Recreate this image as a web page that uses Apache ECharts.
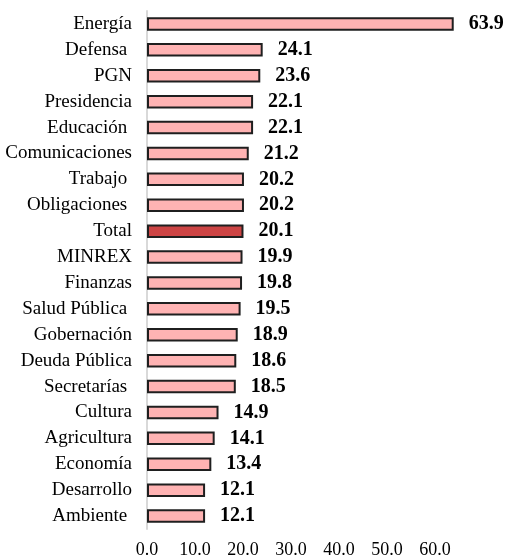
<!DOCTYPE html>
<html>
<head>
<meta charset="utf-8">
<script src="https://cdn.jsdelivr.net/npm/echarts@6/dist/echarts.min.js"></script>
<style>
  html, body { margin: 0; padding: 0; background: #fff; }
  #chart { width: 511px; height: 558px; }
</style>
</head>
<body>
<div id="chart"></div>
<script>
// categorias (algunas con espacio al final, como en el original)
const categories = [
  'Energía', 'Defensa ', 'PGN', 'Presidencia', 'Educación ', 'Comunicaciones',
  'Trabajo ', 'Obligaciones ', 'Total', 'MINREX', 'Finanzas', 'Salud Pública ',
  'Gobernación', 'Deuda Pública', 'Secretarías ', 'Cultura', 'Agricultura',
  'Economía', 'Desarrollo', 'Ambiente '
];
const values = [
  63.9, 24.1, 23.6, 22.1, 22.1, 21.2, 20.2, 20.2, 20.1, 19.9, 19.8, 19.5,
  18.9, 18.6, 18.5, 14.9, 14.1, 13.4, 12.1, 12.1
];
const highlightCategory = 'Total';
const tickValues = [0, 10, 20, 30, 40, 50, 60];

const chart = echarts.init(document.getElementById('chart'));

const option = {
  animation: false,
  grid: { left: 147, right: 28, top: 11, bottom: 29, outerBoundsMode: 'none' },
  xAxis: {
    type: 'value',
    min: 0,
    max: 70,
    interval: 10,
    axisLine: { show: false },
    axisTick: { show: false },
    splitLine: { show: false },
    axisLabel: {
      margin: 12,
      fontFamily: 'Liberation Serif',
      fontSize: 18,
      color: '#000',
      formatter: (v) => (tickValues.includes(v) ? v.toFixed(1) : '')
    }
  },
  yAxis: {
    type: 'category',
    inverse: true,
    data: categories,
    axisLine: { show: true, lineStyle: { color: '#d9d9d9', width: 2 } },
    axisTick: { show: false },
    axisLabel: {
      margin: 15,
      fontFamily: 'Liberation Serif',
      fontSize: 19,
      color: '#000'
    }
  },
  series: [
    {
      type: 'bar',
      barWidth: '52%',
      data: values.map((v, i) => ({
        value: v,
        itemStyle: {
          color: categories[i].trim() === highlightCategory ? '#cc4444' : '#ffb3b3'
        }
      })),
      itemStyle: { borderColor: '#1f1f1f', borderWidth: 2 },
      label: {
        show: true,
        position: 'right',
        distance: 15,
        fontFamily: 'Liberation Serif',
        fontWeight: 'bold',
        fontSize: 20,
        color: '#000',
        formatter: (p) => p.value.toFixed(1)
      }
    }
  ]
};

chart.setOption(option);
</script>
</body>
</html>
